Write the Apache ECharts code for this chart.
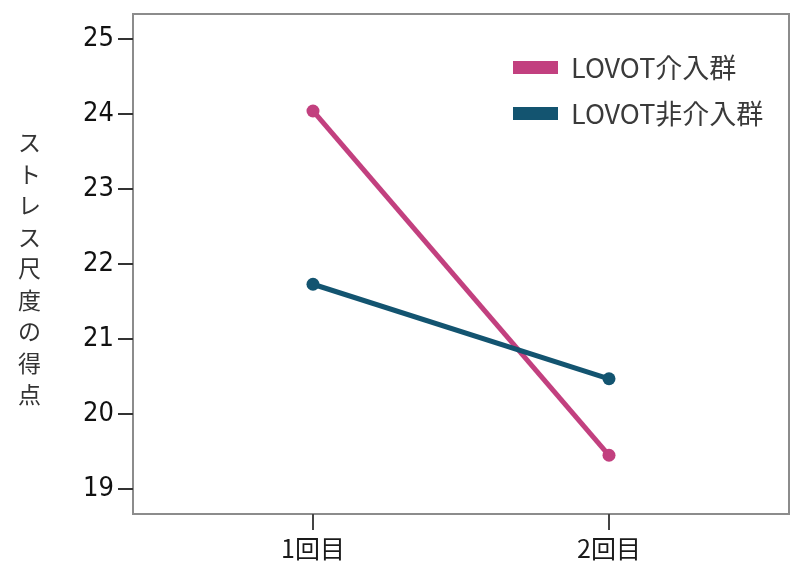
<!DOCTYPE html>
<html>
<head>
<meta charset="utf-8">
<script src="https://cdn.jsdelivr.net/npm/echarts@6/dist/echarts.min.js"></script>
<style>
html,body{margin:0;padding:0;background:#fff;}
#main{width:800px;height:575px;}
</style>
</head>
<body>
<div id="main"></div>
<script>
// data
var sessions = [1, 2];
var sessionLabels = ['1回目', '2回目'];
var groupNames = ['LOVOT介入群', 'LOVOT非介入群'];
var lovotIn = [24.04, 19.45];
var lovotOut = [21.73, 20.47];
var yTicks = [19, 20, 21, 22, 23, 24, 25];
var yTitle = 'ストレス尺度の得点';

var pink = '#c2407f';
var navy = '#135470';
var jp = '"Noto Sans CJK JP", "Noto Sans", sans-serif';
var num = '"Liberation Sans Narrow", "DejaVu Sans Condensed", "Liberation Sans", sans-serif';

function pairs(vals){
	var out = [];
	for(var i = 0;i < sessions.length;i ++){
		out.push([sessions[i], vals[i]]);
	}
	return out;
}

var mychart = echarts.init(document.getElementById('main'));
mychart.setOption({
	animation:false,
	grid:{
		left:133,
		right:11,
		top:14,
		bottom:61,
		show:true,
		borderColor:'#8c8c8c',
		borderWidth:2
	},
	legend:{
		orient:'vertical',
		left:508,
		top:49,
		itemWidth:45,
		itemHeight:13,
		itemGap:19,
		icon:'rect',
		data:groupNames,
		textStyle:{
			fontFamily:jp,
			fontSize:27,
			color:'#3a3a3a',
			padding:[0,0,0,8]
		}
	},
	xAxis:{
		type:'value',
		min:0.392,
		max:2.608,
		splitLine:{show:false},
		axisLine:{show:true,onZero:false,lineStyle:{color:'#8c8c8c',width:2}},
		axisTick:{show:true,customValues:sessions,length:16,lineStyle:{color:'#444',width:2}},
		axisLabel:{
			customValues:sessions,
			margin:22,
			fontFamily:jp,
			fontSize:25,
			color:'#1a1a1a',
			formatter:function(v){
				return sessionLabels[sessions.indexOf(v)];
			}
		}
	},
	yAxis:{
		type:'value',
		min:18.667,
		max:25.333,
		splitLine:{show:false},
		axisLine:{show:true,onZero:false,lineStyle:{color:'#8c8c8c',width:2}},
		axisTick:{show:true,customValues:yTicks,length:15,lineStyle:{color:'#333',width:2}},
		axisLabel:{
			customValues:yTicks,
			margin:19,
			fontFamily:num,
			fontSize:27,
			color:'#111'
		}
	},
	graphic:[{
		type:'text',
		left:18,
		top:127,
		style:{
			text:yTitle.split('').join('\n'),
			font:'23px ' + jp,
			lineHeight:31.5,
			fill:'#333',
			align:'center'
		}
	}],
	series:[
		{
			name:groupNames[0],
			type:'line',
			data:pairs(lovotIn),
			symbol:'circle',
			symbolSize:13,
			lineStyle:{width:5,color:pink},
			itemStyle:{color:pink}
		},
		{
			name:groupNames[1],
			type:'line',
			data:pairs(lovotOut),
			symbol:'circle',
			symbolSize:13,
			lineStyle:{width:5,color:navy},
			itemStyle:{color:navy}
		}
	]
});
</script>
</body>
</html>
